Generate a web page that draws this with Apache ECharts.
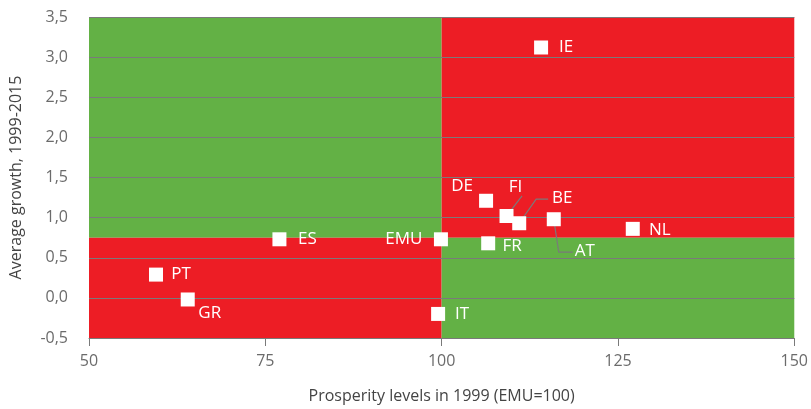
<!DOCTYPE html>
<html><head><meta charset="utf-8">
<script src="https://cdn.jsdelivr.net/npm/echarts@6/dist/echarts.min.js"></script>
<style>html,body{margin:0;padding:0;background:#fff}#c{width:811px;height:409px}</style>
</head><body><div id="c"></div>
<script>
const countries = ['IE','DE','FI','BE','AT','NL','FR','EMU','ES','PT','GR','IT'];
const prosperity = [114.1,106.3,109.2,111.0,115.9,127.1,106.6,99.9,77.0,59.5,64.0,99.5];
const growth = [3.12,1.21,1.02,0.93,0.98,0.86,0.68,0.73,0.73,0.29,-0.02,-0.2];
// label offsets from the marker centre (pixels)
const labelOffsets = [[25,0],[-24,-15],[9,-29],[43,-25],[31,32],[27,1],[24,3],[-37,0],[28,0],[25,0],[22,14],[24,0]];
const xTicks = [50,75,100,125,150];
const yTicks = [-0.5,0,0.5,1,1.5,2,2.5,3,3.5];
const threshX = 100, threshY = 0.75;
const leaderFI = [[109.2,1.02],[111.4,1.27]];
const leaderBE = [[111.0,0.93],[113.4,1.23],[115.1,1.23]];
const leaderAT = [[115.9,0.98],[116.6,0.57],[118.6,0.57]];

const GREEN = '#63b145', RED = '#ed1d25', GRID = '#7a7a7a', TXT = '#6b6b6b';
const FONT = 'Open Sans';
const chart = echarts.init(document.getElementById('c'));
const leader = d => ({type:'line', data:d, showSymbol:false, symbol:'none', z:3, silent:true,
  lineStyle:{color:GRID, width:1.2}});
chart.setOption({
  animation:false,
  textStyle:{fontFamily:FONT},
  grid:{left:88,right:16,top:17,bottom:67},
  xAxis:{type:'value', min:xTicks[0], max:xTicks[xTicks.length-1], interval:25,
    axisLine:{show:true, onZero:false, lineStyle:{color:GRID}}, axisTick:{show:true, length:8, lineStyle:{color:GRID}},
    splitLine:{show:false},
    axisLabel:{color:TXT, fontSize:16, margin:15},
    name:'Prosperity levels in 1999 (EMU=100)', nameLocation:'middle', nameGap:50,
    nameTextStyle:{color:'#444', fontSize:16}},
  yAxis:{type:'value', min:yTicks[0], max:yTicks[yTicks.length-1], interval:0.5, z:2,
    axisLine:{show:false}, axisTick:{show:false},
    splitLine:{show:true, lineStyle:{color:GRID, width:1}},
    axisLabel:{color:TXT, fontSize:16, margin:21, formatter:v=>v.toFixed(1).replace('.',',')},
    name:'Average growth, 1999-2015', nameLocation:'middle', nameGap:65,
    nameTextStyle:{color:'#444', fontSize:16}},
  series:[
    {type:'scatter', data:[], z:1, silent:true,
      markArea:{silent:true, data:[
        [{coord:[xTicks[0],threshY], itemStyle:{color:GREEN}},{coord:[threshX,yTicks[yTicks.length-1]]}],
        [{coord:[threshX,threshY], itemStyle:{color:RED}},{coord:[xTicks[xTicks.length-1],yTicks[yTicks.length-1]]}],
        [{coord:[xTicks[0],yTicks[0]], itemStyle:{color:RED}},{coord:[threshX,threshY]}],
        [{coord:[threshX,yTicks[0]], itemStyle:{color:GREEN}},{coord:[xTicks[xTicks.length-1],threshY]}]
      ]}},
    leader(leaderFI), leader(leaderBE), leader(leaderAT),
    {type:'scatter', z:5, symbol:'rect', symbolSize:14,
      itemStyle:{color:'#fff', opacity:1},
      data: countries.map((c,i)=>({value:[prosperity[i],growth[i]], name:c,
        label:{show:true, position:'inside', offset:labelOffsets[i], formatter:c,
          color:'#fff', fontSize:17, fontFamily:FONT}}))}
  ]
});
</script></body></html>
